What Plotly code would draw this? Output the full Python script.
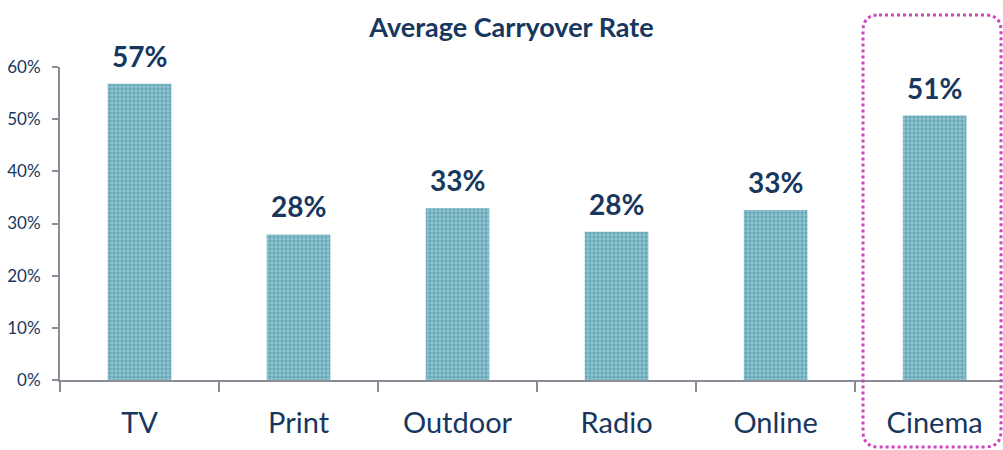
import plotly.graph_objects as go

# Average carryover rate by media channel
channels = ["TV", "Print", "Outdoor", "Radio", "Online", "Cinema"]
carryover = [0.568, 0.279, 0.329, 0.284, 0.326, 0.507]
y_ticks = [0, 0.1, 0.2, 0.3, 0.4, 0.5, 0.6]

NAVY = "#17375e"
AXIS = "#8c8c98"
FONT = "Lato"

W, H = 1003, 450
L, R, T, B = 60, 0, 67, 70

fig = go.Figure(
    go.Bar(
        x=channels,
        y=carryover,
        width=0.4,
        marker=dict(
            color="#93c6d1",
            line=dict(width=0),
            pattern=dict(shape="+", fgcolor="#2d8299", bgcolor="#93c6d1",
                         size=4, solidity=0.5),
        ),
        hoverinfo="skip",
    )
)

# Value labels above each bar
for ch, v in zip(channels, carryover):
    fig.add_annotation(
        x=ch, y=v, text=f"{v:.0%}", showarrow=False,
        yanchor="bottom", yshift=9,
        font=dict(family=FONT, size=28, color=NAVY, weight="bold"),
    )

# Dotted rounded frame highlighting the Cinema column
pw, ph = W - L - R, H - T - B
def px(xp):
    return (xp - L) / pw
def py(yp):
    return (H - B - yp) / ph
x0, x1, y0, y1, r = 863, 1001, 15, 447, 16
path = (
    f"M {px(x0 + r)},{py(y0)} L {px(x1 - r)},{py(y0)} "
    f"Q {px(x1)},{py(y0)} {px(x1)},{py(y0 + r)} "
    f"L {px(x1)},{py(y1 - r)} Q {px(x1)},{py(y1)} {px(x1 - r)},{py(y1)} "
    f"L {px(x0 + r)},{py(y1)} Q {px(x0)},{py(y1)} {px(x0)},{py(y1 - r)} "
    f"L {px(x0)},{py(y0 + r)} Q {px(x0)},{py(y0)} {px(x0 + r)},{py(y0)} Z"
)
fig.add_shape(type="path", path=path, xref="paper", yref="paper",
              line=dict(color="#cf45c0", width=3, dash="dot"))

fig.update_layout(
    width=W, height=H,
    margin=dict(l=L, r=R, t=T, b=B),
    paper_bgcolor="white", plot_bgcolor="white",
    showlegend=False,
    title=dict(
        text="Average Carryover Rate",
        x=511.5 / W, xanchor="center", xref="container",
        y=1 - 28 / H, yanchor="middle", yref="container",
        font=dict(family=FONT, size=27, color=NAVY, weight="bold"),
    ),
    xaxis=dict(
        type="category", range=[-0.5, 5.43],
        tickson="boundaries", ticks="outside", ticklen=10, tickwidth=2,
        tickcolor=AXIS, showline=True, linecolor=AXIS, linewidth=2,
        showgrid=False, zeroline=False,
        tickfont=dict(family=FONT, size=29, color=NAVY),
        ticklabelstandoff=16,
    ),
    yaxis=dict(
        range=[0, 0.6], tickvals=y_ticks, tickformat=".0%",
        ticks="outside", ticklen=6, tickwidth=2, tickcolor=AXIS,
        showline=True, linecolor=AXIS, linewidth=2,
        showgrid=False, zeroline=False,
        tickfont=dict(family=FONT, size=17, color=NAVY),
        ticklabelstandoff=8,
    ),
)

fig.write_html("out.html")
